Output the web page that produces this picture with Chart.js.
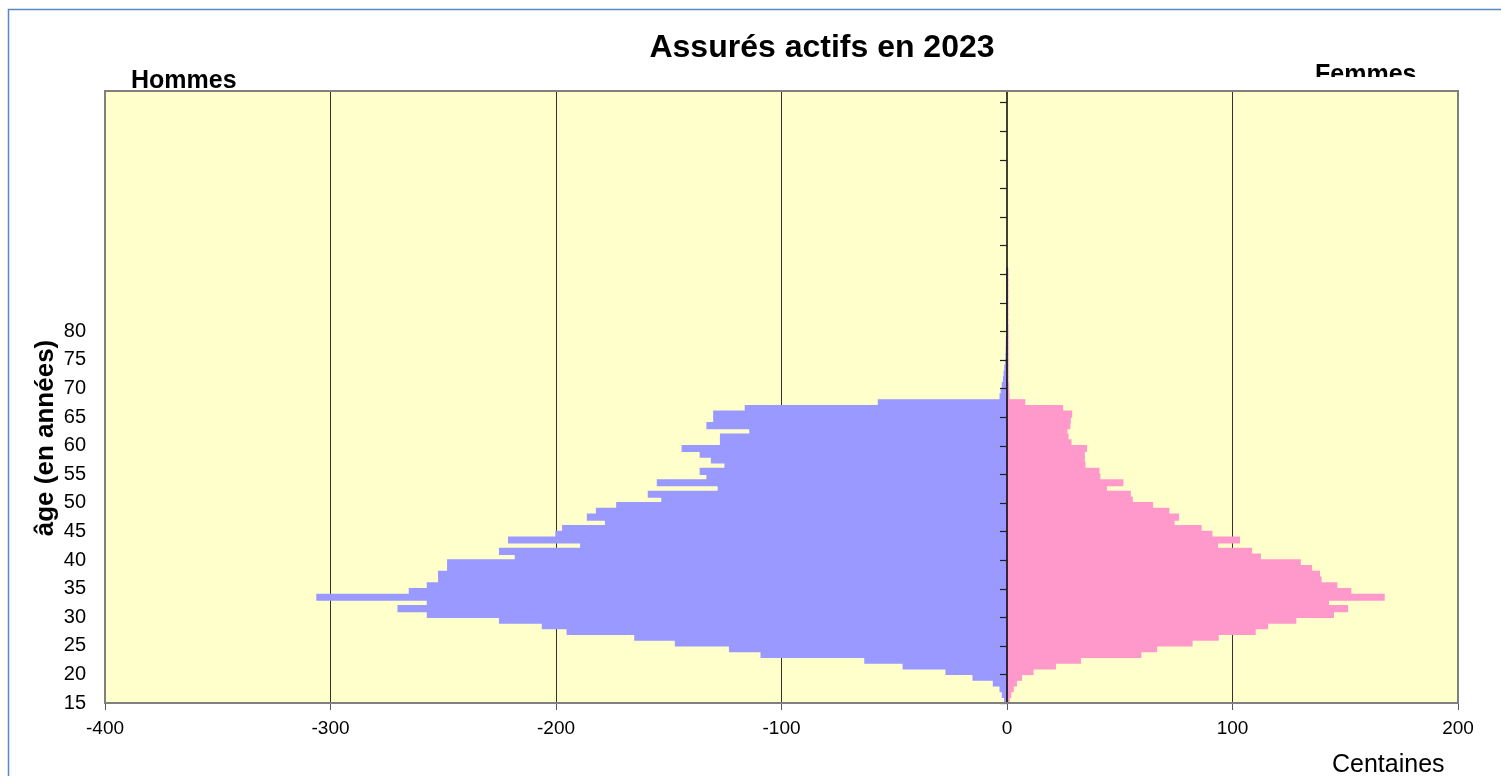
<!DOCTYPE html>
<html lang="fr">
<head>
<meta charset="UTF-8">
<title>Assurés actifs en 2023</title>
<script src="https://cdn.jsdelivr.net/npm/chart.js"></script>
<style>
    html, body { margin: 0; padding: 0; background: #fff; }
    #pyramid { display: block; }
</style>
</head>
<body>
<canvas id="pyramid" width="1501" height="776"></canvas>
<script>
// ages 15 .. 90, one bar per year
const ages = [15,16,17,18,19,20,21,22,23,24,25,26,27,28,29,30,31,32,33,34,35,36,37,38,39,40,
    41,42,43,44,45,46,47,48,49,50,51,52,53,54,55,56,57,58,59,60,61,62,63,64,65,66,67,68,69,70,
    71,72,73,74,75,76,77,78,79,80,81,82,83,84,85,86,87,88,89,90];

// hommes en centaines (negatifs = cote gauche)
const hommes = [-1,-2,-3,-6,-15,-27,-46,-63,-109,-123,-147,-165,-195,-206,-225,-257,-270,-257,-306,-265,
    -257,-252,-252,-248,-248,-218,-225,-189,-221,-200,-197,-178,-186,-182,-173,-153,-159,-128,-155,-133,
    -136,-125,-131,-136,-144,-127,-127,-114,-133,-130,-130,-116,-57,-3,-2.5,-2,-1.5,-1.2,-0.9,-0.6,
    -0.4,-0.3,-0.2,-0.1,0,0,0,0,0,0,0,0,0,0,0,0];

// femmes en centaines
const femmes = [0.9,1.6,2.7,4.1,6.4,11.5,21.4,32.5,59.3,66.3,82,93.6,110,115.5,128,144.7,151,142.5,167.2,152.4,
    146.2,139.2,138.5,135,130,112.3,108.4,93.3,103,90.8,86,74,76,71.7,64.5,55.5,54.6,44,51.3,41.1,
    40.7,34.5,34.2,34.2,35.2,28.3,27,26.5,27.8,28,28.6,24.6,7.8,0.8,0.7,0.6,0.4,0.4,0.4,0.4,
    0.4,0.4,0.4,0.4,0.4,0.4,0.3,0.3,0.3,0.3,0.3,0.3,0.3,0.3,0.3,0.3];

const xTicks = [-400, -300, -200, -100, 0, 100, 200];
const yLabelMax = 80;

const FONT = "'Liberation Sans', Arial, sans-serif";
Chart.defaults.font.family = FONT;

const decor = {
    id: 'decor',
    beforeDraw(chart) {
        const { ctx, chartArea: a } = chart;
        ctx.save();
        ctx.fillStyle = '#ffffff';
        ctx.fillRect(0, 0, chart.width, chart.height);
        // cadre bleu autour du graphique
        ctx.strokeStyle = '#5b86c0';
        ctx.lineWidth = 1.5;
        ctx.beginPath();
        ctx.moveTo(8.5, chart.height);
        ctx.lineTo(8.5, 9.5);
        ctx.lineTo(chart.width, 9.5);
        ctx.stroke();
        // fond de la zone de tracé
        ctx.fillStyle = '#FFFFCC';
        ctx.fillRect(a.left, a.top, a.right - a.left, a.bottom - a.top);
        ctx.restore();
    },
    afterDatasetsDraw(chart) {
        const { ctx, chartArea: a, scales } = chart;
        const x0 = scales.x.getPixelForValue(0);
        ctx.save();
        // axe central + graduations
        ctx.strokeStyle = '#000';
        ctx.lineWidth = 1.5;
        ctx.beginPath();
        ctx.moveTo(x0, a.top);
        ctx.lineTo(x0, a.bottom);
        ctx.stroke();
        ctx.lineWidth = 1.2;
        ctx.strokeStyle = '#222';
        for (let v = 15; v <= 120; v += 5) {
            const y = Math.round(scales.y.getPixelForValue(v)) + 0.5;
            ctx.beginPath();
            ctx.moveTo(x0 - 7, y);
            ctx.lineTo(x0, y);
            ctx.stroke();
        }
        // bordure grise
        ctx.strokeStyle = '#808080';
        ctx.lineWidth = 2;
        ctx.strokeRect(a.left, a.top, a.right - a.left, a.bottom - a.top);
        ctx.restore();
    },
    afterDraw(chart) {
        const { ctx } = chart;
        ctx.save();
        ctx.fillStyle = '#000';
        ctx.textBaseline = 'middle';
        ctx.textAlign = 'center';
        ctx.font = 'bold 32px ' + FONT;
        ctx.fillText('Assurés actifs en 2023', 822, 48);

        ctx.textAlign = 'left';
        ctx.textBaseline = 'alphabetic';
        ctx.font = 'bold 25px ' + FONT;
        ctx.fillText('Hommes', 131, 88);
        ctx.save();
        ctx.beginPath();
        ctx.rect(1300, 50, 150, 27);
        ctx.clip();
        ctx.fillText('Femmes', 1315, 82);
        ctx.restore();

        ctx.font = '25px ' + FONT;
        ctx.fillText('Centaines', 1332, 772);

        ctx.translate(46, 438);
        ctx.rotate(-Math.PI / 2);
        ctx.textAlign = 'center';
        ctx.textBaseline = 'middle';
        ctx.font = 'bold 26px ' + FONT;
        ctx.fillText('âge (en années)', 0, 0);
        ctx.restore();
    }
};

const toPoints = vals => ages.map((a, i) => ({ x: vals[i], y: a + 0.5 }));

new Chart(document.getElementById('pyramid'), {
    type: 'bar',
    data: {
        datasets: [
            { label: 'Hommes', data: toPoints(hommes), backgroundColor: '#9999FF',
              borderWidth: 0, inflateAmount: 0.7, barPercentage: 1, categoryPercentage: 1 },
            { label: 'Femmes', data: toPoints(femmes), backgroundColor: '#FF99CC',
              borderWidth: 0, inflateAmount: 0.7, barPercentage: 1, categoryPercentage: 1 }
        ]
    },
    options: {
        indexAxis: 'y',
        responsive: false,
        animation: false,
        devicePixelRatio: 1,
        layout: { padding: { top: 91, right: 43, left: 0, bottom: 0 } },
        plugins: {
            legend: { display: false },
            tooltip: { enabled: false },
            title: { display: false }
        },
        scales: {
            x: {
                type: 'linear',
                min: xTicks[0],
                max: xTicks[xTicks.length - 1],
                stacked: true,
                afterBuildTicks: s => { s.ticks = xTicks.map(v => ({ value: v })); },
                ticks: { color: '#000', font: { size: 19 }, padding: 7 },
                grid: {
                    color: c => (c.tick && c.tick.value === 0) ? 'rgba(0,0,0,0)' : '#333',
                    lineWidth: 1,
                    tickColor: '#555',
                    tickLength: 7
                },
                border: { display: false },
                afterFit: s => { s.height = 73; }
            },
            y: {
                type: 'linear',
                min: 15,
                max: 122,
                stacked: true,
                offset: false,
                ticks: {
                    stepSize: 5,
                    autoSkip: false,
                    color: '#000',
                    font: { size: 20 },
                    padding: 11,
                    callback: v => (v % 5 === 0 && v <= yLabelMax) ? String(v) : ''
                },
                grid: { display: false, offset: false },
                border: { display: false },
                afterFit: s => { s.width = 105; }
            }
        }
    },
    plugins: [decor]
});
</script>
</body>
</html>
